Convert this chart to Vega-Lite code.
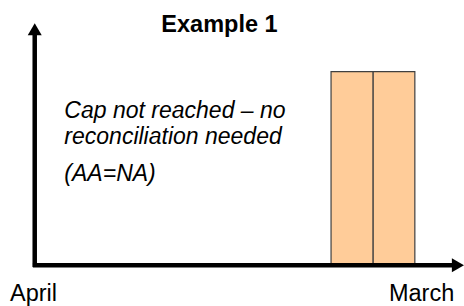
{
  "$schema": "https://vega.github.io/schema/vega-lite/v6.json",
  "width": 464,
  "height": 306,
  "padding": 0,
  "autosize": {"type": "fit", "contains": "padding"},
  "config": {"view": {"stroke": null}},
  "background": "white",
  "layer": [
    {
      "data": {"values": [
        {"start": 64.0, "end": 73.1, "value": 63.5},
        {"start": 73.1, "end": 82.1, "value": 63.5}
      ]},
      "mark": {"type": "rect", "fill": "#FFCC99", "stroke": "#404040", "strokeWidth": 1.2},
      "encoding": {
        "x": {"field": "start", "type": "quantitative", "scale": {"domain": [-7.5, 92.5], "nice": false, "zero": false}, "axis": null},
        "x2": {"field": "end"},
        "y": {"field": "value", "type": "quantitative", "scale": {"domain": [-13, 87], "nice": false, "zero": false}, "axis": null},
        "y2": {"datum": 0}
      }
    },
    {
      "data": {"values": [
        {"x1": 0, "y1": -0.5, "x2": 0, "y2": 75.5},
        {"x1": -0.4, "y1": 0, "x2": 91.0, "y2": 0}
      ]},
      "mark": {"type": "rule", "color": "black", "strokeWidth": 4.5},
      "encoding": {
        "x": {"field": "x1", "type": "quantitative"},
        "x2": {"field": "x2"},
        "y": {"field": "y1", "type": "quantitative"},
        "y2": {"field": "y2"}
      }
    },
    {
      "data": {"values": [
        {"x": 0, "y": 77.4, "shape": "triangle-up"},
        {"x": 91.4, "y": 0, "shape": "triangle-right"}
      ]},
      "mark": {"type": "point", "filled": true, "color": "black", "opacity": 1, "size": 196},
      "encoding": {
        "x": {"field": "x", "type": "quantitative"},
        "y": {"field": "y", "type": "quantitative"},
        "shape": {"field": "shape", "type": "nominal", "scale": null}
      }
    },
    {
      "data": {"values": [{"x": 39.9, "y": 76.4, "label": "Example 1"}]},
      "mark": {"type": "text", "font": "Liberation Sans", "fontSize": 23.5, "fontWeight": "bold", "align": "center", "baseline": "alphabetic", "color": "black"},
      "encoding": {
        "x": {"field": "x", "type": "quantitative"},
        "y": {"field": "y", "type": "quantitative"},
        "text": {"field": "label"}
      }
    },
    {
      "data": {"values": [{"x": -5.35, "y": -11.8, "label": "April"}]},
      "mark": {"type": "text", "font": "Liberation Sans", "fontSize": 23.5, "align": "left", "baseline": "alphabetic", "color": "black"},
      "encoding": {
        "x": {"field": "x", "type": "quantitative"},
        "y": {"field": "y", "type": "quantitative"},
        "text": {"field": "label"}
      }
    },
    {
      "data": {"values": [{"x": 90.6, "y": -11.8, "label": "March"}]},
      "mark": {"type": "text", "font": "Liberation Sans", "fontSize": 23.5, "align": "right", "baseline": "alphabetic", "color": "black"},
      "encoding": {
        "x": {"field": "x", "type": "quantitative"},
        "y": {"field": "y", "type": "quantitative"},
        "text": {"field": "label"}
      }
    },
    {
      "data": {"values": [
        {"x": 6.4, "y": 48.4, "label": "Cap not reached – no"},
        {"x": 6.4, "y": 39.8, "label": "reconciliation needed"},
        {"x": 6.4, "y": 27.5, "label": "(AA=NA)"}
      ]},
      "mark": {"type": "text", "font": "Liberation Sans", "fontSize": 23, "fontStyle": "italic", "align": "left", "baseline": "alphabetic", "color": "black"},
      "encoding": {
        "x": {"field": "x", "type": "quantitative"},
        "y": {"field": "y", "type": "quantitative"},
        "text": {"field": "label"}
      }
    }
  ]
}
